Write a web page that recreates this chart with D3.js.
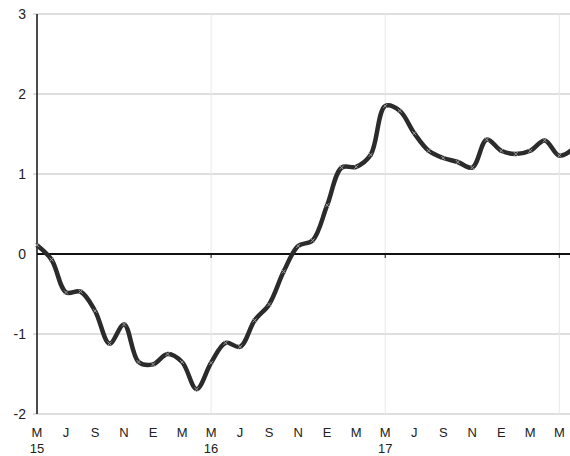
<!DOCTYPE html>
<html>
<head>
<meta charset="utf-8">
<script src="https://cdn.jsdelivr.net/npm/d3@7"></script>
<style>
  body { margin: 0; background: #fff; }
  text { font-family: "Liberation Sans", Arial, sans-serif; fill: #222; }
</style>
</head>
<body>
<div id="chart"></div>
<script>
// monthly values, May 2015 .. Jun 2018
const values = [
  0.11, -0.07, -0.48, -0.47, -0.71, -1.12, -0.88, -1.35,
  -1.38, -1.25, -1.35, -1.69, -1.36, -1.11, -1.16, -0.83,
  -0.63, -0.22, 0.10, 0.17, 0.61, 1.08, 1.09, 1.24,
  1.85, 1.79, 1.51, 1.29, 1.20, 1.15, 1.08, 1.43,
  1.29, 1.25, 1.29, 1.42, 1.23, 1.32
];
// tick labels every two months, starting May 2015
const monthLabels = ["M","J","S","N","E","M","M","J","S","N","E","M","M","J","S","N","E","M","M"];
const yearLabels = {0: "15", 12: "16", 24: "17"};
const yTicks = [-2, -1, 0, 1, 2, 3];
const yearLines = [12, 24, 36];

const width = 570, height = 456;
const margin = {top: 14, right: 0, bottom: 42, left: 37};

const svg = d3.select("#chart").append("svg")
    .attr("width", width)
    .attr("height", height);

const x = d3.scaleLinear()
    .domain([0, 36])
    .range([margin.left, 559.3]);

const y = d3.scaleLinear()
    .domain([-2, 3])
    .range([height - margin.bottom, margin.top]);

// horizontal grid
svg.append("g")
  .selectAll("line")
  .data(yTicks.filter(d => d !== 0))
  .join("line")
    .attr("x1", margin.left - 4)
    .attr("x2", width)
    .attr("y1", d => y(d))
    .attr("y2", d => y(d))
    .attr("stroke", "#d4d4d4")
    .attr("stroke-width", 1.5);

// vertical year lines
svg.append("g")
  .selectAll("line")
  .data(yearLines)
  .join("line")
    .attr("x1", d => x(d))
    .attr("x2", d => x(d))
    .attr("y1", y(3))
    .attr("y2", y(-2))
    .attr("stroke", "#e8e8e8")
    .attr("stroke-width", 1);

// y labels
svg.append("g")
  .selectAll("text")
  .data(yTicks)
  .join("text")
    .attr("x", 26)
    .attr("y", d => y(d))
    .attr("dy", "0.35em")
    .attr("text-anchor", "end")
    .attr("font-size", 14)
    .text(d => d);

// x labels
svg.append("g")
  .selectAll("text")
  .data(monthLabels)
  .join("text")
    .attr("x", (d, i) => x(i * 2))
    .attr("y", 437)
    .attr("text-anchor", "middle")
    .attr("font-size", 13)
    .text(d => d);

svg.append("g")
  .selectAll("text")
  .data(Object.entries(yearLabels))
  .join("text")
    .attr("x", d => x(+d[0]))
    .attr("y", 453)
    .attr("text-anchor", "middle")
    .attr("font-size", 13)
    .text(d => d[1]);

// zero line with small ticks
svg.append("line")
    .attr("x1", margin.left)
    .attr("x2", width)
    .attr("y1", y(0))
    .attr("y2", y(0))
    .attr("stroke", "#111")
    .attr("stroke-width", 2);

svg.append("g")
  .selectAll("line")
  .data(yearLines)
  .join("line")
    .attr("x1", d => x(d))
    .attr("x2", d => x(d))
    .attr("y1", y(0))
    .attr("y2", y(0) + 4)
    .attr("stroke", "#111")
    .attr("stroke-width", 1);

// y axis
svg.append("line")
    .attr("x1", margin.left)
    .attr("x2", margin.left)
    .attr("y1", y(3))
    .attr("y2", y(-2))
    .attr("stroke", "#111")
    .attr("stroke-width", 1.5);

// series
const line = d3.line()
    .x((d, i) => x(i))
    .y(d => y(d))
    .curve(d3.curveCatmullRom.alpha(0.5));

svg.append("path")
    .datum(values)
    .attr("fill", "none")
    .attr("stroke", "#2b2b2b")
    .attr("stroke-width", 4.5)
    .attr("stroke-linejoin", "round")
    .attr("d", line);

// small cross markers
svg.append("g")
  .selectAll("path")
  .data(values)
  .join("path")
    .attr("transform", (d, i) => `translate(${x(i)},${y(d)})`)
    .attr("d", "M-2,-2L2,2M-2,2L2,-2")
    .attr("stroke", "#9a9a9a")
    .attr("stroke-width", 1);
</script>
</body>
</html>
